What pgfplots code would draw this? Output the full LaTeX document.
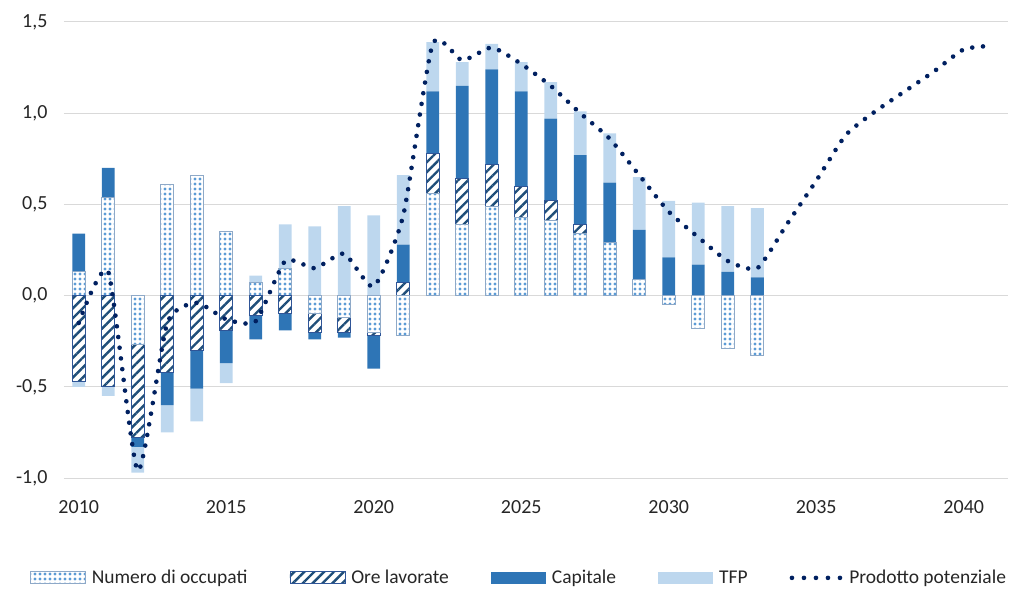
\documentclass[border=0pt]{standalone}
\usepackage{fontspec}
\setmainfont{Carlito}
\usepackage{pgfplots}
\usepackage{pgfplotstable}
\pgfplotsset{compat=1.18}
\usetikzlibrary{patterns.meta}

\definecolor{capcol}{HTML}{2E75B6}
\definecolor{tfpcol}{HTML}{BDD7EE}
\definecolor{occdot}{HTML}{5B9BD5}
\definecolor{occborder}{HTML}{8EA9C8}
\definecolor{hatchcol}{HTML}{1F4E79}
\definecolor{oreborder}{HTML}{2F5597}
\definecolor{linecol}{HTML}{002060}
\definecolor{gridcol}{HTML}{D9D9D9}
\definecolor{txt}{HTML}{262626}

\tikzset{
  barocc/.style={fill=white, draw=occborder, line width=0.8pt,
    postaction={pattern={Dots[radius=1.7pt,distance=5pt]}, pattern color=occdot}},
  barore/.style={fill=white, draw=oreborder, line width=0.8pt,
    postaction={pattern={Lines[angle=45,distance=7pt,line width=2.4pt]}, pattern color=hatchcol}},
  barcap/.style={fill=capcol, draw=none},
  bartfp/.style={fill=tfpcol, draw=none},
  potline/.style={linecol, line width=4.6pt, line cap=round, dash pattern=on 0pt off 10.8pt},
}

% positive parts
\pgfplotstableread{
year occ ore cap tfp
2010 0.13 0 0.21 0
2011 0.54 0 0.16 0
2012 0 0 0 0
2013 0.61 0 0 0
2014 0.66 0 0 0
2015 0.35 0 0 0
2016 0.07 0 0 0.04
2017 0.15 0 0 0.24
2018 0 0 0 0.38
2019 0 0 0 0.49
2020 0 0 0 0.44
2021 0 0.07 0.21 0.38
2022 0.56 0.22 0.34 0.27
2023 0.39 0.25 0.51 0.13
2024 0.49 0.23 0.52 0.14
2025 0.43 0.17 0.52 0.16
2026 0.41 0.11 0.45 0.20
2027 0.34 0.05 0.38 0.24
2028 0.29 0 0.33 0.27
2029 0.09 0 0.27 0.29
2030 0 0 0.21 0.31
2031 0 0 0.17 0.34
2032 0 0 0.13 0.36
2033 0 0 0.10 0.38
}\pos

% negative parts
\pgfplotstableread{
year occ ore cap tfp
2010 0 -0.47 0 -0.03
2011 0 -0.50 0 -0.05
2012 -0.27 -0.51 -0.05 -0.14
2013 0 -0.42 -0.18 -0.15
2014 0 -0.30 -0.21 -0.18
2015 0 -0.19 -0.18 -0.11
2016 0 -0.11 -0.13 0
2017 0 -0.10 -0.09 0
2018 -0.10 -0.10 -0.04 0
2019 -0.12 -0.08 -0.03 0
2020 -0.20 -0.02 -0.18 0
2021 -0.22 0 0 0
2022 0 0 0 0
2023 0 0 0 0
2024 0 0 0 0
2025 0 0 0 0
2026 0 0 0 0
2027 0 0 0 0
2028 0 0 0 0
2029 0 0 0 0
2030 -0.05 0 0 0
2031 -0.18 0 0 0
2032 -0.29 0 0 0
2033 -0.33 0 0 0
}\negs

\pgfplotstableread{
year val
2010 -0.15
2011 0.13
2012 -0.96
2013 -0.15
2014 -0.04
2015 -0.13
2016 -0.14
2017 0.19
2018 0.15
2019 0.23
2020 0.05
2021 0.44
2022 1.38
2023 1.29
2024 1.36
2025 1.27
2026 1.15
2027 1.00
2028 0.86
2029 0.66
2030 0.46
2031 0.32
2032 0.19
2033 0.15
2034 0.39
2035 0.63
2036 0.88
2037 1.01
2038 1.12
2039 1.23
2040 1.35
2041 1.37
}\potenziale

\pgfplotsset{
  base/.style={
    at={(0,0)}, anchor=south west,
    scale only axis, width=944pt, height=456pt,
    xmin=2009.5, xmax=2041.5, ymin=-1, ymax=1.5,
    axis line style={draw=none}, major tick length=0pt,
  },
}

\begin{document}
\begin{tikzpicture}
\useasboundingbox (-64pt,-111pt) rectangle (947pt,478pt);

\begin{axis}[base,
    ybar stacked, bar width=0.44,
    ymajorgrids, grid style={gridcol, line width=1pt},
    ytick={-1,-0.5,...,1.5},
    xtick={2010,2015,...,2040},
    ticklabel style={font=\fontsize{20}{22}\selectfont, text=txt},
    yticklabel style={xshift=-13pt, /pgf/number format/.cd, fixed, fixed zerofill, precision=1, use comma},
    xticklabel style={yshift=-19pt, /pgf/number format/1000 sep={}},
    /pgf/number format/assume math mode=true,
]
\addplot[barocc] table[x=year, y=occ] {\pos};
\addplot[barore] table[x=year, y=ore] {\pos};
\addplot[barcap] table[x=year, y=cap] {\pos};
\addplot[bartfp] table[x=year, y=tfp] {\pos};
\end{axis}

\begin{axis}[base, ybar stacked, bar width=0.44, xtick=\empty, ytick=\empty]
\addplot[barocc] table[x=year, y=occ] {\negs};
\addplot[barore] table[x=year, y=ore] {\negs};
\addplot[barcap] table[x=year, y=cap] {\negs};
\addplot[bartfp] table[x=year, y=tfp] {\negs};
\end{axis}

\begin{axis}[base, xtick=\empty, ytick=\empty,
    legend columns=5,
    legend style={at={(0.482,-0.219)}, anchor=center, draw=none, fill=none,
      font=\fontsize{19.5}{21}\selectfont, text=txt,
      /tikz/every odd column/.append style={column sep=4pt},
      /tikz/every even column/.append style={column sep=40pt}},
]
\addlegendimage{legend image code/.code={\draw[barocc] (0pt,-6pt) rectangle (55pt,6pt);}}
\addlegendentry{Numero di occupati}
\addlegendimage{legend image code/.code={\draw[barore] (0pt,-6pt) rectangle (55pt,6pt);}}
\addlegendentry{Ore lavorate}
\addlegendimage{legend image code/.code={\draw[barcap] (0pt,-6pt) rectangle (55pt,6pt);}}
\addlegendentry{Capitale}
\addlegendimage{legend image code/.code={\draw[bartfp] (0pt,-6pt) rectangle (55pt,6pt);}}
\addlegendentry{TFP}
\addplot[potline, smooth, tension=0.35,
  legend image code/.code={\draw[potline, dash pattern=on 0pt off 12pt] (2pt,0pt) -- (51pt,0pt);}]
  table[x=year, y=val] {\potenziale};
\addlegendentry{Prodotto potenziale}
\end{axis}
\end{tikzpicture}
\end{document}
